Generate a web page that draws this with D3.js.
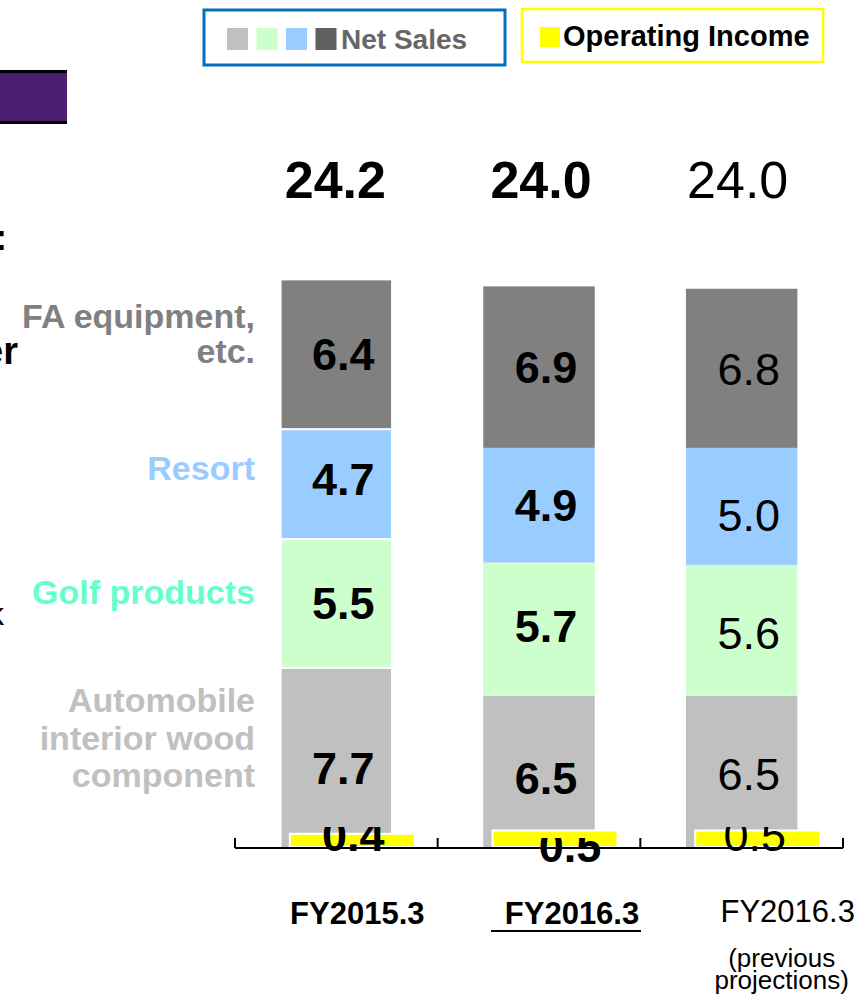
<!DOCTYPE html>
<html>
<head>
<meta charset="utf-8">
<script src="https://cdn.jsdelivr.net/npm/d3@7"></script>
<style>
  html, body { margin: 0; padding: 0; background: #fff; }
  svg { display: block; font-family: "Liberation Sans", Arial, Helvetica, sans-serif; }
</style>
</head>
<body>
<svg id="chart" width="866" height="994"></svg>
<script>
// Fiscal years shown on the x axis
const categories = ["FY2015.3", "FY2016.3", "FY2016.3 (previous projections)"];
const categoryLines = [["FY2015.3"], ["FY2016.3"], ["FY2016.3", "(previous", "projections)"]];

// Net sales by segment (billion yen), stacked bottom to top
const segments = ["Automobile interior wood component", "Golf products", "Resort", "FA equipment, etc."];
const automobile = [7.7, 6.5, 6.5];
const golf = [5.5, 5.7, 5.6];
const resort = [4.7, 4.9, 5.0];
const faEquipment = [6.4, 6.9, 6.8];
const netSalesTotal = [24.2, 24.0, 24.0];

// Operating income (billion yen)
const operatingIncome = [0.4, 0.5, 0.5];

const segmentColors = ["#c0c0c0", "#ccffcc", "#99ccff", "#808080"];
const segmentLabelColors = ["#c0c0c0", "#66ffcc", "#99ccff", "#808080"];

const svg = d3.select("#chart");

// ---- scales ----
const x = d3.scaleBand().domain(categories).range([235, 843])
  .paddingInner(0.45).paddingOuter(0.225);
const y = d3.scaleLinear().domain([0, 25]).range([848, 848 - 25 * 23.4]);
const yInc = d3.scaleLinear().domain([0, 1]).range([847, 847 - 33]);
const mid = c => x(c) + x.bandwidth() / 2;

// ---- stacked net sales ----
const rows = categories.map((c, i) => ({
  cat: c, idx: i,
  [segments[0]]: automobile[i], [segments[1]]: golf[i],
  [segments[2]]: resort[i], [segments[3]]: faEquipment[i]
}));
const stacked = d3.stack().keys(segments)(rows);

const layers = svg.append("g").selectAll("g").data(stacked).join("g")
  .attr("fill", (d, i) => segmentColors[i]);

layers.selectAll("rect").data(d => d).join("rect")
  .attr("x", d => x(d.data.cat))
  .attr("width", x.bandwidth())
  .attr("y", d => y(d[1]))
  .attr("height", d => y(d[0]) - y(d[1]))
  .attr("stroke", d => d.data.idx === 0 ? "#fff" : "none")
  .attr("stroke-width", 2);

// segment value labels (small vertical nudges per bar/segment)
const segFont = 45;
const labelNudge = [[10, -1, -5, 0], [6, -3, 0, 0], [2, 2, 8, 0]];
layers.selectAll("text").data((d, i) => d.map(p => ({ p, si: i }))).join("text")
  .attr("x", d => mid(d.p.data.cat) + 7)
  .attr("y", d => (y(d.p[0]) + y(d.p[1])) / 2 + segFont * 0.36 + labelNudge[d.p.data.idx][d.si])
  .attr("text-anchor", "middle")
  .attr("font-size", segFont)
  .attr("font-weight", d => d.p.data.idx === 2 ? "normal" : "bold")
  .attr("fill", "#000")
  .text(d => d3.format(".1f")(d.p[1] - d.p[0]));

// totals above bars
const totalShift = [-1, 2, -4];
svg.append("g").selectAll("text").data(categories).join("text")
  .attr("x", (c, i) => mid(c) + totalShift[i])
  .attr("y", 198)
  .attr("text-anchor", "middle")
  .attr("font-size", 52)
  .attr("font-weight", (c, i) => i === 2 ? "normal" : "bold")
  .attr("fill", "#000")
  .text((c, i) => d3.format(".1f")(netSalesTotal[i]));

// ---- operating income ----
const incOffset = 16, incWidth = 125;
svg.append("g").selectAll("rect").data(categories).join("rect")
  .attr("x", c => mid(c) + incOffset - incWidth / 2)
  .attr("width", incWidth)
  .attr("y", (c, i) => yInc(operatingIncome[i]))
  .attr("height", (c, i) => yInc(0) - yInc(operatingIncome[i]))
  .attr("fill", "#ffff00")
  .attr("stroke", "#fff")
  .attr("stroke-width", 2);

// income labels sit in a short text frame that trims their tops
const incBase = [851, 862, 851];
const incShift = [17, 31, 13];
const defs = svg.append("defs");
categories.forEach((c, i) => {
  defs.append("clipPath").attr("id", "incClip" + i)
    .append("rect").attr("x", x(c) - 20).attr("width", x.bandwidth() + 80)
    .attr("y", incBase[i] - 24).attr("height", 40);
});
svg.append("g").selectAll("text").data(categories).join("text")
  .attr("clip-path", (c, i) => `url(#incClip${i})`)
  .attr("x", (c, i) => mid(c) + incShift[i])
  .attr("y", (c, i) => incBase[i])
  .attr("text-anchor", "middle")
  .attr("font-size", segFont)
  .attr("font-weight", (c, i) => i === 2 ? "normal" : "bold")
  .attr("fill", "#000")
  .text((c, i) => d3.format(".1f")(operatingIncome[i]));

// ---- x axis: baseline with upward ticks at category boundaries ----
const axisY = y(0);
const gap = x.step() * x.paddingInner() / 2;
const bounds = [x(categories[0]) - gap].concat(categories.map(c => x(c) + x.bandwidth() + gap));
const axis = svg.append("g").attr("stroke", "#000").attr("stroke-width", 2);
axis.append("line").attr("x1", bounds[0]).attr("x2", bounds[bounds.length - 1])
  .attr("y1", axisY).attr("y2", axisY);
axis.selectAll("line.tick").data(bounds).join("line").attr("class", "tick")
  .attr("x1", d => d).attr("x2", d => d)
  .attr("y1", axisY).attr("y2", axisY - 10);

// category labels
const catShift = [21, 33, 46];
const subShift = -6;
const catG = svg.append("g").selectAll("g").data(categories).join("g")
  .attr("transform", (c, i) => `translate(${mid(c) + catShift[i]},0)`);
catG.each(function (c, i) {
  const g = d3.select(this);
  categoryLines[i].forEach((line, j) => {
    g.append("text")
      .attr("x", j === 0 ? 0 : subShift)
      .attr("y", j === 0 ? (i < 2 ? 924 : 922) : (j === 1 ? 967 : 989))
      .attr("text-anchor", "middle")
      .attr("font-size", j === 0 ? 31 : 26)
      .attr("font-weight", i < 2 && j === 0 ? "bold" : "normal")
      .attr("fill", "#000")
      .text(line);
  });
});
// underline for the current fiscal year
svg.append("line")
  .attr("x1", mid(categories[1]) - 48)
  .attr("x2", mid(categories[1]) + 102)
  .attr("y1", 931).attr("y2", 931)
  .attr("stroke", "#000").attr("stroke-width", 2);

// ---- segment names on the left ----
const segNameLines = [["Automobile", "interior wood", "component"], ["Golf products"], ["Resort"], ["FA equipment,", "etc."]];
const segNameBase = [712, 604, 480, 328];
const segNames = svg.append("g").attr("font-size", 34).attr("font-weight", "bold").attr("text-anchor", "end");
segNameLines.forEach((lines, i) => {
  lines.forEach((line, j) => {
    segNames.append("text")
      .attr("x", 255)
      .attr("y", segNameBase[i] + j * (i === 3 ? 35 : 37.5))
      .attr("fill", segmentLabelColors[i])
      .text(line);
  });
});

// ---- legend ----
const legend = svg.append("g");
legend.append("rect").attr("x", 204).attr("y", 10).attr("width", 301).attr("height", 55)
  .attr("fill", "#fff").attr("stroke", "#0070c0").attr("stroke-width", 3);
const legendSwatches = ["#c0c0c0", "#ccffcc", "#99ccff", "#606060"];
legend.selectAll("rect.sw").data(legendSwatches).join("rect").attr("class", "sw")
  .attr("x", (d, i) => 227 + i * 29.5).attr("y", 28).attr("width", 21).attr("height", 22)
  .attr("fill", d => d);
legend.append("text").attr("x", 341).attr("y", 49).attr("font-size", 28)
  .attr("font-weight", "bold").attr("fill", "#666666").text("Net Sales");

legend.append("rect").attr("x", 522).attr("y", 9).attr("width", 301).attr("height", 53)
  .attr("fill", "#fff").attr("stroke", "#ffff00").attr("stroke-width", 2.5);
legend.append("rect").attr("x", 540).attr("y", 27).attr("width", 20).attr("height", 20)
  .attr("fill", "#ffff00");
legend.append("text").attr("x", 563).attr("y", 46).attr("font-size", 29)
  .attr("font-weight", "bold").attr("fill", "#000").text("Operating Income");

// ---- slide elements cut off at the left edge ----
const banner = svg.append("g");
banner.append("rect").attr("x", 0).attr("y", 70).attr("width", 67).attr("height", 54)
  .attr("fill", "#4b1e72");
banner.append("rect").attr("x", 0).attr("y", 70).attr("width", 67).attr("height", 3).attr("fill", "#000");
banner.append("rect").attr("x", 0).attr("y", 121).attr("width", 67).attr("height", 3).attr("fill", "#000");
svg.append("text").attr("x", 7).attr("y", 250).attr("text-anchor", "end")
  .attr("font-size", 36).attr("font-weight", "bold").attr("fill", "#000").text("t:");
svg.append("text").attr("x", 18).attr("y", 364).attr("text-anchor", "end")
  .attr("font-size", 38).attr("font-weight", "bold").attr("fill", "#000").text("er");
svg.append("text").attr("x", 4).attr("y", 625).attr("text-anchor", "end")
  .attr("font-size", 32).attr("font-weight", "normal").attr("fill", "#000").text("k");
</script>
</body>
</html>
